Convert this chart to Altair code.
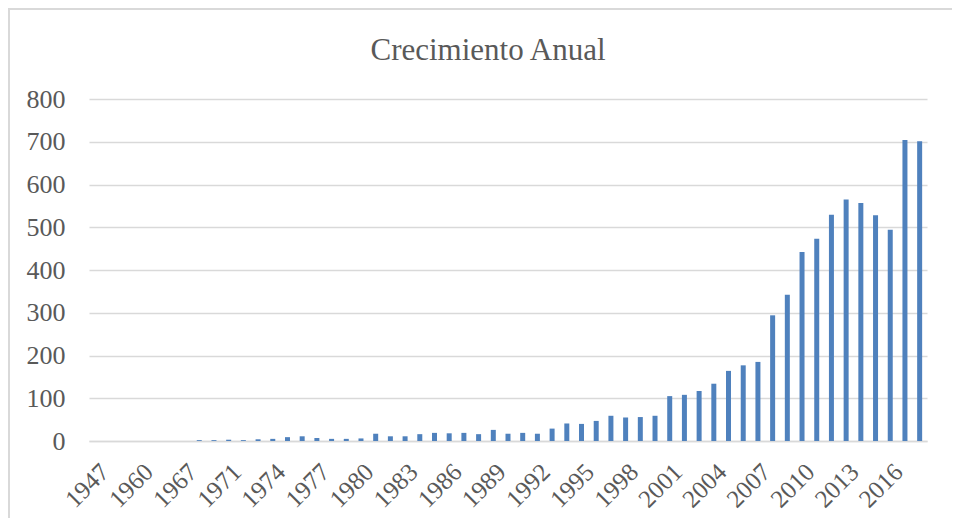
import altair as alt
import pandas as pd

years = ["1947", "1950", "1955", "1960", "1963", "1965", "1967", "1969", "1970",
         "1971", "1972", "1973", "1974", "1975", "1976", "1977", "1978", "1979",
         "1980", "1981", "1982", "1983", "1984", "1985", "1986", "1987", "1988",
         "1989", "1990", "1991", "1992", "1993", "1994", "1995", "1996", "1997",
         "1998", "1999", "2000", "2001", "2002", "2003", "2004", "2005", "2006",
         "2007", "2008", "2009", "2010", "2011", "2012", "2013", "2014", "2015",
         "2016", "2017", "2018"]
values = [0, 0, 0, 0, 0, 0, 0, 2, 2,
          3, 2, 4, 5, 9, 11, 7, 5, 5,
          6, 17, 11, 11, 16, 19, 18, 19, 16,
          26, 17, 19, 17, 29, 41, 40, 47, 59,
          55, 56, 59, 105, 108, 117, 134, 164, 177,
          185, 294, 342, 442, 473, 529, 565, 557, 528,
          494, 704, 701]
label_years = years[::3]

df = pd.DataFrame({"year": years, "value": values})

FONT = "Liberation Serif"
GREY = "#595959"

bars = alt.Chart(df).mark_bar(color="#4f81bd", size=5).encode(
    x=alt.X("year:N", sort=None, title=None,
            scale=alt.Scale(paddingInner=0.6, paddingOuter=0.3),
            axis=alt.Axis(values=label_years, labelAngle=-45, labelFontSize=25,
                          labelFont=FONT, labelColor=GREY, ticks=False,
                          domainColor="#d9d9d9", domainWidth=1.5, labelPadding=18,
                          labelOverlap=False, grid=False)),
    y=alt.Y("value:Q", title=None,
            scale=alt.Scale(domain=[0, 800], nice=False),
            axis=alt.Axis(values=[0, 100, 200, 300, 400, 500, 600, 700, 800],
                          labelFontSize=26, labelFont=FONT, labelColor=GREY,
                          ticks=False, domain=False, gridColor="#d9d9d9",
                          gridWidth=1.5, labelPadding=24)),
)

border = alt.Chart(df).mark_rect(fill=None, stroke="#d9d9d9", strokeWidth=1.5, clip=False).encode(
    x=alt.value(-80), x2=alt.value(880), y=alt.value(-90), y2=alt.value(440)
)

chart = alt.layer(border, bars).properties(
    width=838, height=342,
    autosize=alt.AutoSizeParams(type="none"),
    padding={"left": 81, "top": 91, "right": 25, "bottom": 77},
    title=alt.Title("Crecimiento Anual", font=FONT, fontSize=31, color=GREY,
                    fontWeight="normal", anchor="middle", frame="group",
                    baseline="alphabetic", dx=-20, offset=-83),
).configure_view(stroke=None).configure_axisX(grid=False)

chart.save("out.html", embed_options={"renderer": "svg", "actions": False})
